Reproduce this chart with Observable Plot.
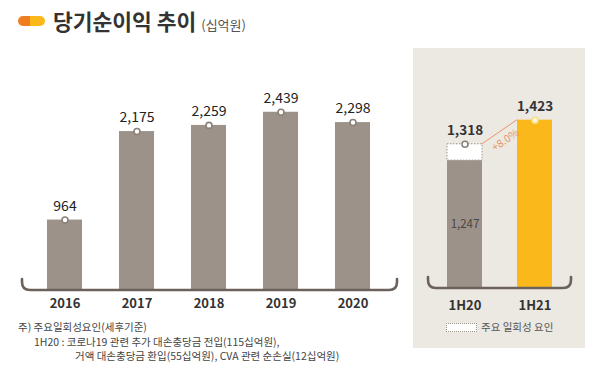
<!DOCTYPE html>
<html><head><meta charset="utf-8">
<script src="https://cdn.jsdelivr.net/npm/d3@7"></script>
<script src="https://cdn.jsdelivr.net/npm/@observablehq/plot@0.6"></script>
<style>
body{margin:0;background:#fff;}
#wrap{position:relative;width:595px;height:370px;font-family:"Noto Sans CJK KR","Noto Sans",sans-serif;color:#333;overflow:hidden;background:#fff;}
.abs{position:absolute;white-space:nowrap;}
.note{font-size:10.5px;line-height:12px;color:#444;}
</style></head><body>
<div id="wrap">
 <div class="abs" style="left:18px;top:16px;width:27px;height:10px;border-radius:5px;background:linear-gradient(to right,#f07d22 0 45%,#fbb81b 45% 100%);"></div>
 <div class="abs" style="left:53px;top:6px;font-size:21.5px;font-weight:700;color:#333;line-height:30px;">당기순이익 추이 <span style="font-size:13px;font-weight:400;color:#555;">(십억원)</span></div>
 <div id="left" class="abs" style="left:0;top:0;"></div>
 <div id="panel" class="abs" style="left:413px;top:48px;width:172px;height:300px;background:#ece8e2;">
   <div id="right" class="abs" style="left:0;top:0"></div>
   <div class="abs" style="left:33px;top:275px;width:29px;height:7px;background:#fff;border:1px dotted #9a948d;"></div>
   <div class="abs" style="left:68px;top:271px;font-size:10.5px;line-height:16px;color:#555">주요 일회성 요인</div>
 </div>
 <div class="abs note" style="left:18px;top:321px;">주) 주요일회성요인(세후기준)</div>
 <div class="abs note" style="left:34px;top:336px;">1H20 : 코로나19 관련 추가 대손충당금 전입(115십억원),</div>
 <div class="abs note" style="left:75px;top:350px;">거액 대손충당금 환입(55십억원), CVA 관련 순손실(12십억원)</div>
</div>
<script>
// ---- data ----
const years = ["2016", "2017", "2018", "2019", "2020"];
const yearValues = [964, 2175, 2259, 2439, 2298];
const halfLabels = ["1H20", "1H21"];
const halfReported = [1318, 1423];      // 당기순이익
const halfCore = [1247, 1423];          // 주요 일회성 요인 제외
const growthLabel = "+8.0%";

const GRAY = "#9c9289", YELLOW = "#fbb81b", DOT_GRAY = "#8a8178", BRACKET = "#6b625b", ORANGE = "#e9956c";
const fmt = d3.format(",");
const FONT = '"Noto Sans CJK KR","Noto Sans",sans-serif';

function bracket(first, last, padL, padR, base) {
  return (index, scales) => {
    const bw = scales.x.bandwidth ? scales.x.bandwidth() : 0;
    const x1 = scales.x(first) - padL, x2 = scales.x(last) + bw + padR;
    const yb = scales.y(base), r = 8, h = 11;
    return d3.create("svg:path")
      .attr("d", `M${x1},${yb - h}V${yb - r}Q${x1},${yb} ${x1 + r},${yb}H${x2 - r}Q${x2},${yb} ${x2},${yb - r}V${yb - h}`)
      .attr("fill", "none").attr("stroke", BRACKET).attr("stroke-width", 2.6).attr("stroke-linecap", "round")
      .node();
  };
}

const yearData = years.map((y, i) => ({year: y, value: yearValues[i]}));

const left = Plot.plot({
  width: 410, height: 320,
  marginLeft: 8, marginRight: 0, marginTop: 100, marginBottom: 30,
  style: {fontFamily: FONT, background: "transparent", overflow: "visible"},
  x: {domain: years, paddingInner: 0.507, paddingOuter: 0.507, axis: null},
  y: {domain: [0, 2600], axis: null},
  marks: [
    Plot.barY(yearData, {x: "year", y: "value", fill: GRAY}),
    bracket(years[0], years[years.length - 1], 25, 27, 0),
    Plot.dot(yearData, {x: "year", y: "value", r: 3, fill: "white", stroke: DOT_GRAY, strokeWidth: 1.6}),
    Plot.text(yearData, {x: "year", y: "value", text: d => fmt(d.value), dy: -14, fontSize: 14, fontWeight: 400, fill: "#222"}),
    Plot.text(years, {x: d => d, frameAnchor: "bottom", lineAnchor: "middle", dy: 13, fontSize: 13, fontWeight: 700, fill: "#333"})
  ]
});
document.getElementById("left").appendChild(left);

const halfData = halfLabels.map((l, i) => ({label: l, reported: halfReported[i], core: halfCore[i]}));
const yDom = [690, 1500];

const right = Plot.plot({
  width: 172, height: 300,
  marginLeft: 12, marginRight: 11, marginTop: 54, marginBottom: 60,
  style: {fontFamily: FONT, background: "transparent", overflow: "visible"},
  x: {domain: halfLabels, paddingInner: 0.493, paddingOuter: 0.3, axis: null},
  y: {domain: yDom, clamp: true, axis: null},
  marks: [
    Plot.barY(halfData, {x: "label", y: "core", fill: d => d.label === "1H21" ? YELLOW : GRAY}),
    Plot.barY(halfData.filter(d => d.reported > d.core), {x: "label", y1: "core", y2: "reported", fill: "white", stroke: "#9a948d", strokeWidth: 1, strokeDasharray: "1.5,1.5"}),
    bracket(halfLabels[0], halfLabels[1], 19, 19, yDom[0]),
    (index, scales) => {
      const bw = scales.x.bandwidth ? scales.x.bandwidth() : 0;
      const x1 = scales.x(halfLabels[0]) + bw, y1 = scales.y(halfReported[0]);
      const x2 = scales.x(halfLabels[1]), y2 = scales.y(halfReported[1]);
      const g = d3.create("svg:g");
      g.append("line").attr("x1", x1).attr("y1", y1).attr("x2", x2).attr("y2", y2)
        .attr("stroke", ORANGE).attr("stroke-width", 1);
      const a = Math.atan2(y2 - y1, x2 - x1);
      const ang = a * 180 / Math.PI;
      const off = 10;
      const mx = (x1 + x2) / 2 - Math.sin(a) * off, my = (y1 + y2) / 2 + Math.cos(a) * off;
      g.append("text").attr("transform", `translate(${mx},${my}) rotate(${ang})`)
        .attr("text-anchor", "middle").attr("dy", "0.35em")
        .attr("font-size", 10.5).attr("fill", ORANGE).text(growthLabel);
      return g.node();
    },
    Plot.dot(halfData, {x: "label", y: "reported", r: 3, fill: d => d.label === "1H21" ? "#fff6d6" : "white", stroke: d => d.label === "1H21" ? "#f3e08a" : DOT_GRAY, strokeWidth: 1.6}),
    Plot.text(halfData, {x: "label", y: "reported", text: d => fmt(d.reported), dy: -14, fontSize: 13.5, fontWeight: 700, fill: "#333"}),
    Plot.text(halfData.filter(d => d.reported > d.core), {x: "label", y: d => (yDom[0] + d.core) / 2, text: d => fmt(d.core), fontSize: 11.5, fill: "#4a4540"}),
    Plot.text(halfLabels, {x: d => d, frameAnchor: "bottom", lineAnchor: "middle", dy: 17, fontSize: 13, fontWeight: 700, fill: "#333"})
  ]
});
document.getElementById("right").appendChild(right);
</script>
</body></html>
